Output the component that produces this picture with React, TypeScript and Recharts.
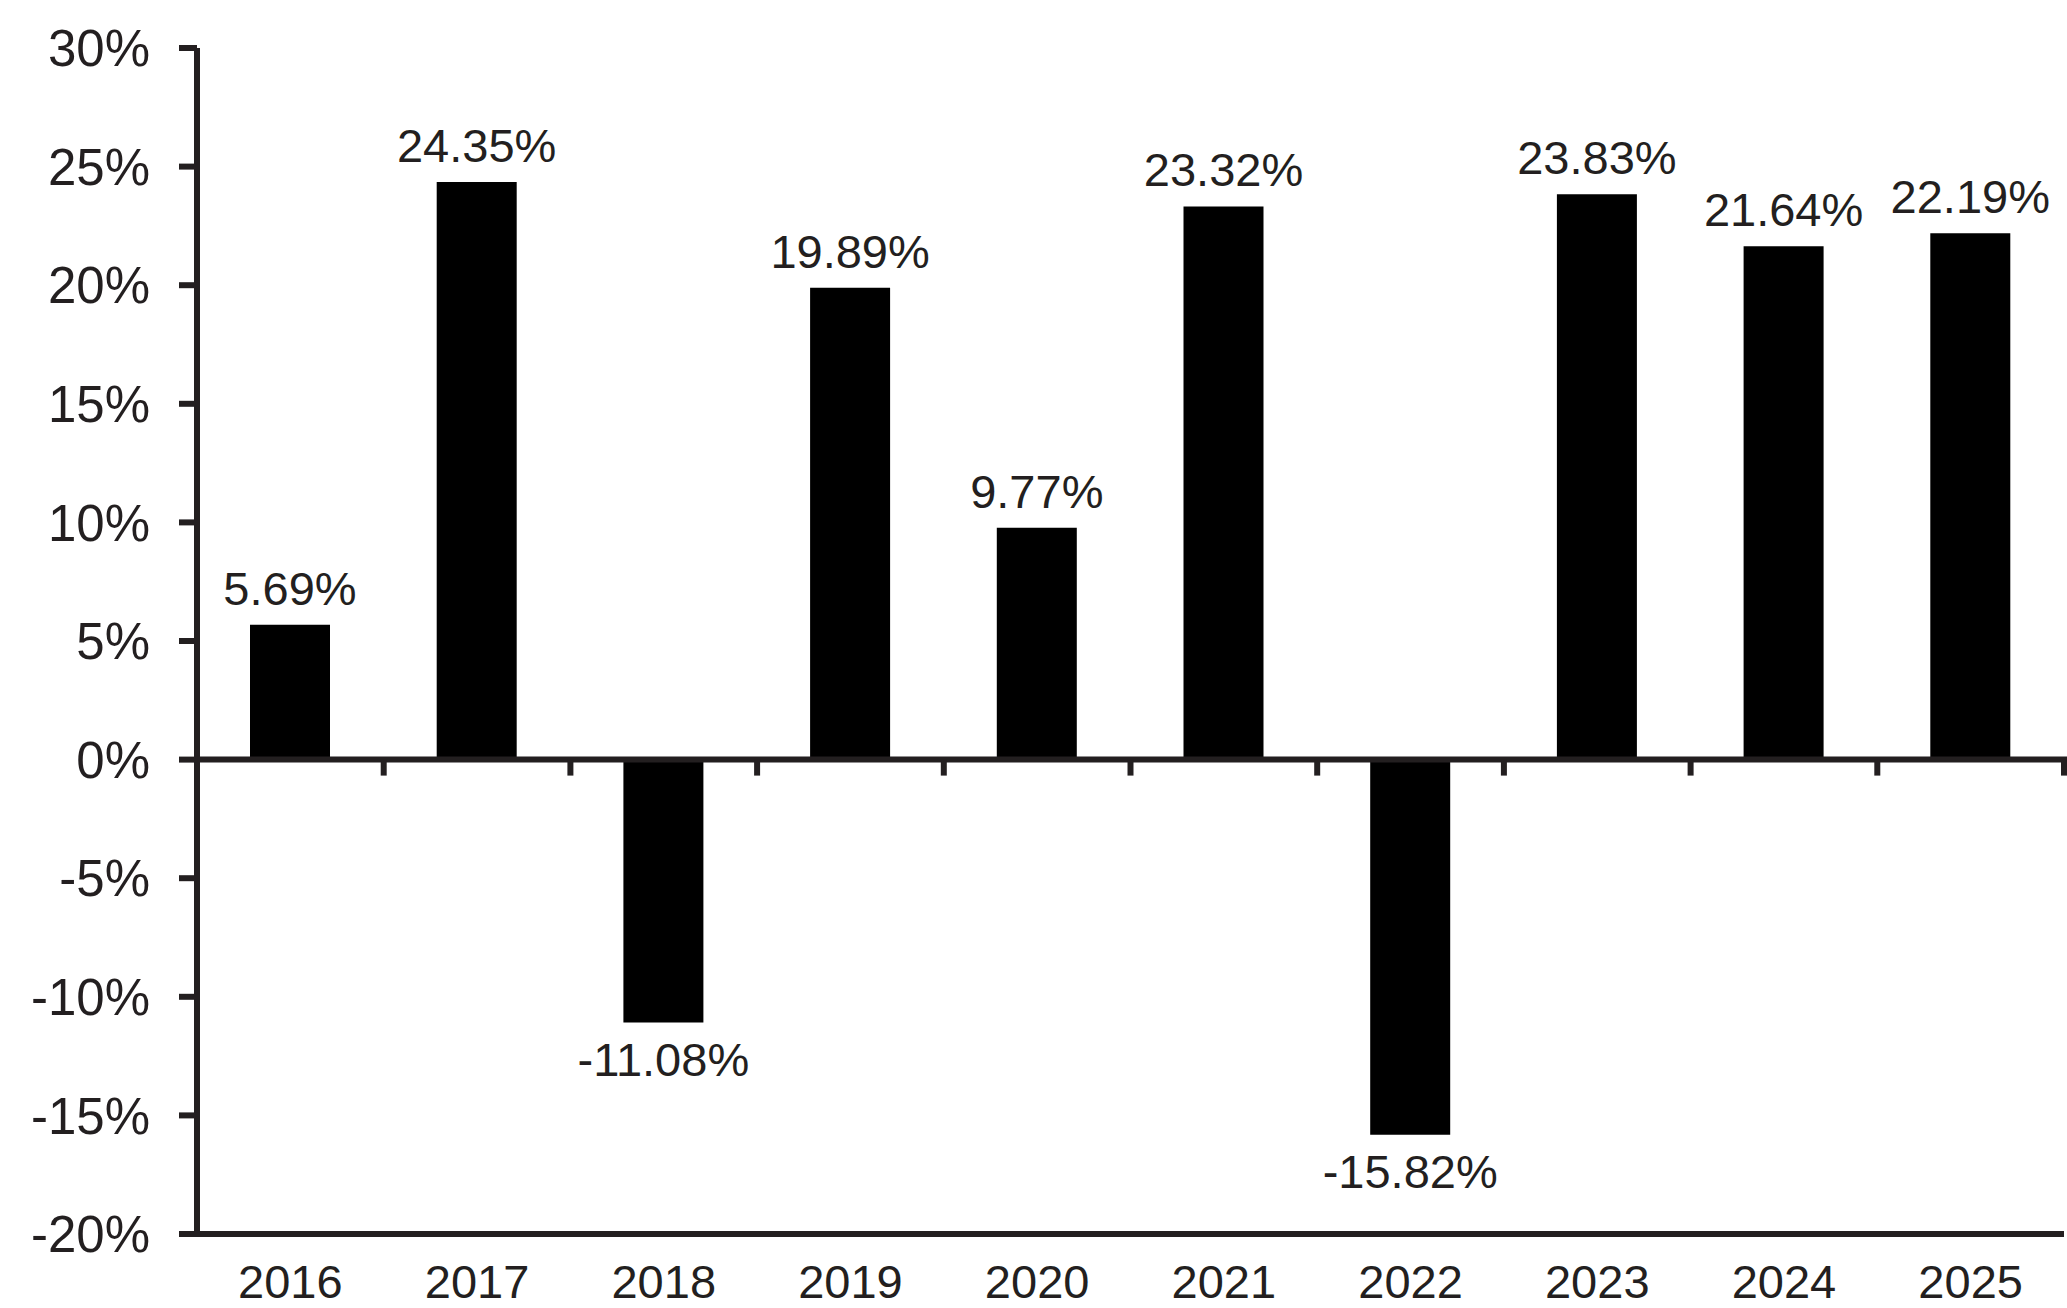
import React from 'react';
import { BarChart, Bar, XAxis, YAxis, LabelList, ReferenceLine } from 'recharts';

const years = ['2016', '2017', '2018', '2019', '2020', '2021', '2022', '2023', '2024', '2025'];
const returns = [5.69, 24.35, -11.08, 19.89, 9.77, 23.32, -15.82, 23.83, 21.64, 22.19];
const yTicks = [-20, -15, -10, -5, 0, 5, 10, 15, 20, 25, 30];

const INK = '#231f20';
const FONT = '"Liberation Sans", Arial, Helvetica, sans-serif';

const data = years.map((year, i) => ({ year, value: returns[i] }));

// zero line with small downward ticks at the category boundaries
const ZeroLine = (props: any) => {
  const { x1, x2, y1 } = props;
  const step = (x2 - x1) / years.length;
  return (
    <g>
      <line x1={x1} x2={x2 + 3} y1={y1} y2={y1} stroke={INK} strokeWidth={6} />
      {years.map((_, i) => (
        <line
          key={i}
          x1={x1 + step * (i + 1)}
          x2={x1 + step * (i + 1)}
          y1={y1}
          y2={y1 + 16}
          stroke={INK}
          strokeWidth={6}
        />
      ))}
    </g>
  );
};

export default function App() {
  return (
    <div style={{ width: 2067, height: 1308, background: '#fff' }}>
      <style>{'body{margin:0}'}</style>
      <BarChart
        width={2067}
        height={1308}
        data={data}
        margin={{ top: 48, right: 3, bottom: 0, left: 0 }}
      >
        <XAxis
          dataKey="year"
          height={74}
          axisLine={{ stroke: INK, strokeWidth: 6 }}
          tickLine={false}
          tickSize={0}
          tickMargin={31}
          interval={0}
          tick={{ fill: INK, fontSize: 47, fontFamily: FONT }}
        />
        <YAxis
          width={197}
          domain={[-20, 30]}
          ticks={yTicks}
          interval={0}
          allowDataOverflow
          axisLine={{ stroke: INK, strokeWidth: 6 }}
          tickLine={{ stroke: INK, strokeWidth: 6 }}
          tickSize={18}
          tickMargin={29}
          tickFormatter={(v: number) => `${v}%`}
          tick={{ fill: INK, fontSize: 51, fontFamily: FONT }}
        />
        <Bar dataKey="value" fill="#000" barSize={80} isAnimationActive={false}>
          <LabelList
            dataKey="value"
            position="top"
            offset={20}
            formatter={(v: number) => `${v.toFixed(2)}%`}
            style={{ fill: INK, fontSize: 47, fontFamily: FONT }}
          />
        </Bar>
        <ReferenceLine y={0} stroke={INK} strokeWidth={6} shape={ZeroLine} />
      </BarChart>
    </div>
  );
}
